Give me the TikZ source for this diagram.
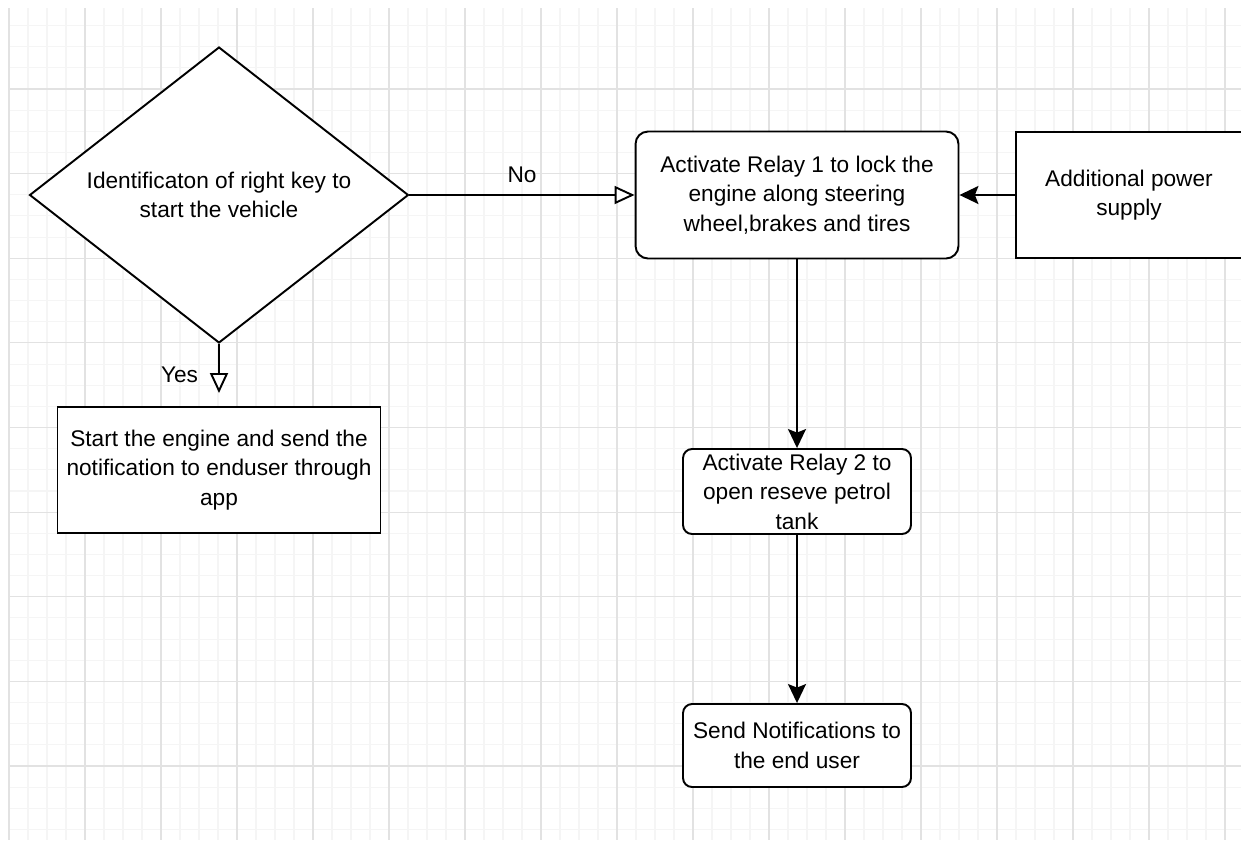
\documentclass[tikz,border=0pt]{standalone}
\usepackage{fontspec}
\setmainfont{Liberation Sans}
\usepackage{xcolor}
\usepackage{tikz}
\usetikzlibrary{positioning, arrows.meta, calc, shapes.geometric}

\definecolor{gridmajor}{HTML}{E2E2E2}
\definecolor{gridminor}{HTML}{F5F5F5}

\begin{document}
\begin{tikzpicture}[
      x=0.02cm, y=-0.02cm,
      box/.style={
        draw,
        line width=1.1pt,
        fill=white,
        align=center,
        font=\fontsize{12.9}{16.8}\selectfont
      },
      roundbox/.style={
        box,
        rounded corners=0.25cm
      },
      decision/.style={
        box,
        diamond,
        aspect=1.28,
        inner sep=0pt,
        minimum width=7.58cm,
        minimum height=5.92cm
      },
      openarrow/.style={
        -{Triangle[open, length=0.4cm, width=0.36cm, fill=white]},
        line width=1.1pt
      },
      arrow/.style={
        -{Stealth[length=0.38cm, width=0.36cm, inset=0.07cm]},
        line width=1.1pt
      },
      lbl/.style={
        inner sep=0pt,
        font=\fontsize{12.9}{16.8}\selectfont
      }
    ]

    \useasboundingbox (0,0) rectangle (1241,840);

    % background grid
    \foreach \i in {0,...,65}
      \draw[gridminor, line width=0.6pt] ({9+19*\i},8) -- ({9+19*\i},840);
    \foreach \j in {1,...,39}
      \draw[gridminor, line width=0.6pt] (9,{4.375+21.156*\j}) -- (1241,{4.375+21.156*\j});
    \foreach \i in {0,...,16}
      \draw[gridmajor, line width=0.6pt] ({9+76*\i},8) -- ({9+76*\i},840);
    \foreach \j in {1,...,9}
      \draw[gridmajor, line width=0.6pt] (9,{4.375+84.625*\j}) -- (1241,{4.375+84.625*\j});

    \node[decision] (key) at (219,195) {
      Identificaton of right key to\\
      start the vehicle
    };

    \node[box, minimum width=6.46cm, minimum height=2.52cm] (start) at (219,470) {
      Start the engine and send the\\
      notification to enduser through\\
      app
    };

    \node[roundbox, minimum width=6.46cm, minimum height=2.54cm] (relay1) at (797,195) {
      Activate Relay 1 to lock the\\
      engine along steering\\
      wheel,brakes and tires
    };

    \node[box, minimum width=4.52cm, minimum height=2.52cm] (power) at (1129,195) {
      Additional power\\
      supply
    };

    \node[roundbox, rounded corners=0.18cm, inner sep=0pt,
          minimum width=4.56cm, minimum height=1.7cm] (relay2) at (797,491.5) {
      Activate Relay 2 to\\
      open reseve petrol\\
      tank
    };

    \node[roundbox, rounded corners=0.18cm,
          minimum width=4.56cm, minimum height=1.66cm] (notify) at (797,745.5) {
      Send Notifications to\\
      the end user
    };

    \draw[openarrow] (key.east) --
      node[lbl, above=0.22cm] {No}
      (relay1.west);

    \draw[openarrow, shorten >=0.26cm] (key.south) --
      node[lbl, left=0.4cm] {Yes}
      (start.north);

    \draw[arrow] (power.west) -- (relay1.east);
    \draw[arrow] (relay1.south) -- (relay2.north);
    \draw[arrow] (relay2.south) -- (notify.north);

    \end{tikzpicture}
\end{document}
